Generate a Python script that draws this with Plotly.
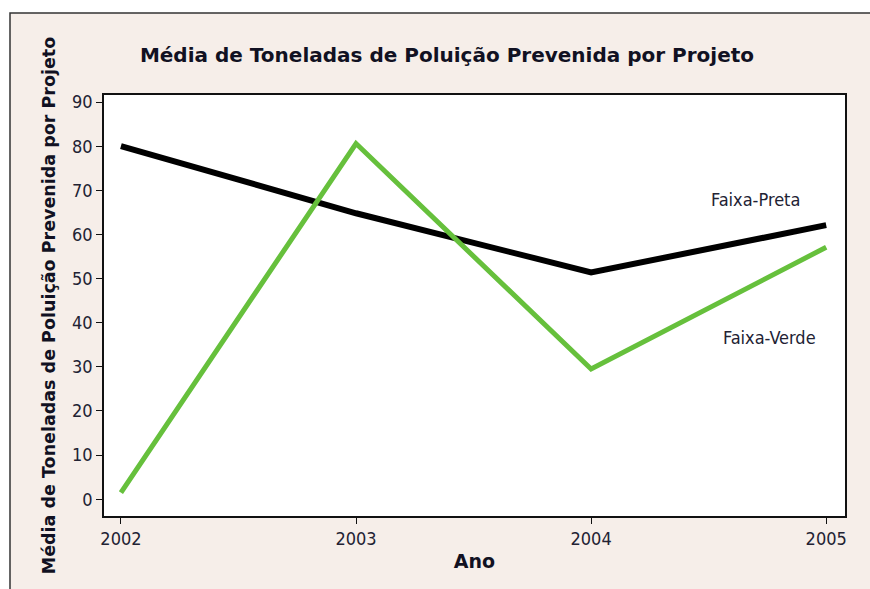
import plotly.graph_objects as go

anos = [2002, 2003, 2004, 2005]
faixa_preta = [80.0, 64.8, 51.4, 62.1]
faixa_verde = [1.5, 80.6, 29.5, 57.1]
y_ticks = [0, 10, 20, 30, 40, 50, 60, 70, 80, 90]

W, H = 870, 589
ml, mr, mt, mb = 104, 25, 95, 73
pw, ph = W - ml - mr, H - mt - mb

def px_x(p):
    return (p - ml) / pw

def px_y(p):
    return 1 - (p - mt) / ph

fig = go.Figure()
fig.add_trace(go.Scatter(x=anos, y=faixa_preta, mode="lines",
                         line=dict(color="#000000", width=6), showlegend=False))
fig.add_trace(go.Scatter(x=anos, y=faixa_verde, mode="lines",
                         line=dict(color="#66c03c", width=5), showlegend=False))

lab_font = dict(family="DejaVu Sans Condensed, DejaVu Sans", size=18, color="#222233")
fig.add_annotation(x=2004.70, y=67.9, text="Faixa-Preta", showarrow=False, font=lab_font)
fig.add_annotation(x=2004.76, y=36.6, text="Faixa-Verde", showarrow=False, font=lab_font)

fig.add_shape(type="rect", xref="paper", yref="paper",
              x0=px_x(10), x1=px_x(900), y0=px_y(620), y1=px_y(13),
              fillcolor="#f6eee9", line=dict(color="#333333", width=1.5), layer="below")
fig.add_shape(type="rect", xref="paper", yref="paper",
              x0=0, x1=1, y0=0, y1=1,
              fillcolor="white", line=dict(width=0), layer="below")

fig.update_layout(
    width=W, height=H,
    margin=dict(l=ml, r=mr, t=mt, b=mb),
    paper_bgcolor="white", plot_bgcolor="white",
    title=dict(text="<b>Média de Toneladas de Poluição Prevenida por Projeto</b>",
               x=px_x(447), xanchor="center", xref="paper", y=1 - 55 / H, yanchor="middle",
               font=dict(family="DejaVu Sans", size=20, color="#111122")),
    font=dict(family="DejaVu Sans Condensed, DejaVu Sans", color="#222233"),
)
fig.update_xaxes(range=[2001.928, 2005.08], tickvals=anos, ticktext=[str(a) for a in anos],
                 showgrid=False, zeroline=False, showline=True, linecolor="#111111", linewidth=1.5,
                 mirror=True, ticks="outside", ticklen=6, tickcolor="#111111",
                 tickfont=dict(size=18),
                 title=dict(text="<b>Ano</b>", font=dict(family="DejaVu Sans", size=19, color="#111122"), standoff=6))
fig.update_yaxes(range=[-3.8, 91.6], tickvals=y_ticks,
                 showgrid=False, zeroline=False, showline=True, linecolor="#111111", linewidth=1.5,
                 mirror=True, ticks="outside", ticklen=6, tickcolor="#111111",
                 tickfont=dict(size=18),
                 title=dict(text="<b>Média de Toneladas de Poluição Prevenida por Projeto</b>",
                            font=dict(family="DejaVu Sans", size=17.5, color="#111122"), standoff=12))

fig.write_html("out.html", config={"displayModeBar": False},
               post_script="document.body.style.margin='0';")
